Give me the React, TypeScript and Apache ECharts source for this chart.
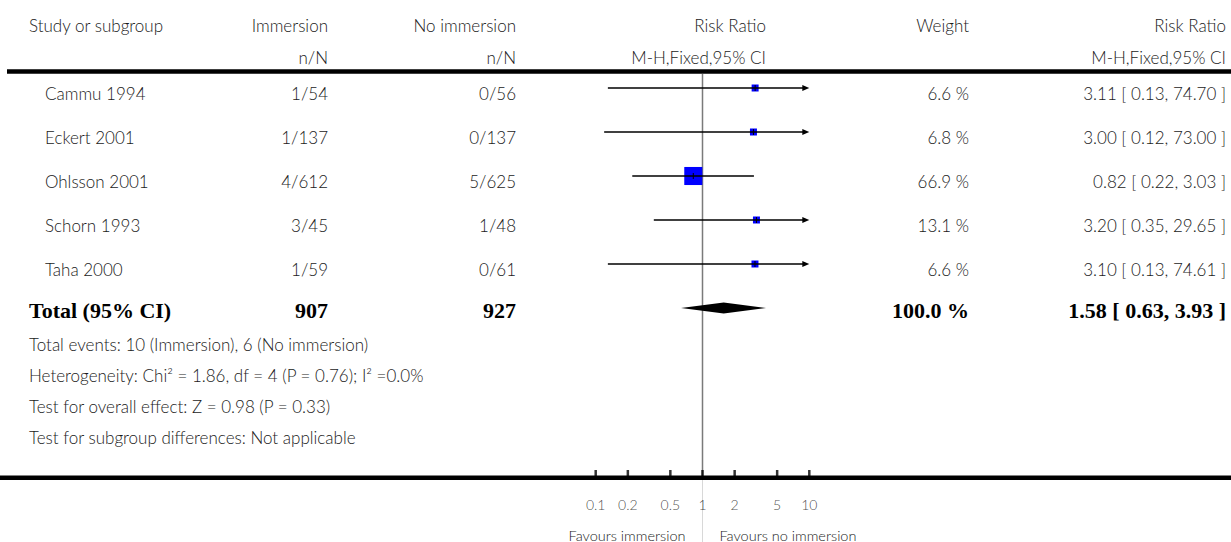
import React, { useEffect, useRef } from "react";
import * as echarts from "echarts";

// ---------- data ----------
const studies = ["Cammu 1994", "Eckert 2001", "Ohlsson 2001", "Schorn 1993", "Taha 2000"];
const immersionNN = ["1/54", "1/137", "4/612", "3/45", "1/59"];
const noImmersionNN = ["0/56", "0/137", "5/625", "1/48", "0/61"];
const weights = [6.6, 6.8, 66.9, 13.1, 6.6];
const riskRatio = [3.11, 3.0, 0.82, 3.2, 3.1];
const ciLow = [0.13, 0.12, 0.22, 0.35, 0.13];
const ciHigh = [74.7, 73.0, 3.03, 29.65, 74.61];

const totalLabel = "Total (95% CI)";
const totalImmersion = 907;
const totalNoImmersion = 927;
const totalWeight = 100.0;
const totalRR = 1.58;
const totalLow = 0.63;
const totalHigh = 3.93;

const axisTicks = [0.1, 0.2, 0.5, 1, 2, 5, 10];
const tickLabels = ["0.1", "0.2", "0.5", "1", "2", "5", "10"];
const favoursLeft = "Favours immersion";
const favoursRight = "Favours no immersion";

const footnotes = [
  "Total events: 10 (Immersion), 6 (No immersion)",
  "Heterogeneity: Chi\u00B2 = 1.86, df = 4 (P = 0.76); I\u00B2 =0.0%",
  "Test for overall effect: Z = 0.98 (P = 0.33)",
  "Test for subgroup differences: Not applicable",
];

// ---------- layout ----------
const W = 1231;
const H = 542;
const ROW = 44;
const Y_MIN = -2;
const Y_MAX = H / ROW - 2;
const PX_PER_DECADE = 106.8;
const X_ONE = 702.5;
const GRID_LEFT = X_ONE - 2 * PX_PER_DECADE;
const GRID_WIDTH = 4 * PX_PER_DECADE;
const ARROW_CAP = 10;

const REG = { fontFamily: "Lato", fontWeight: 300, fontSize: 17, fill: "#1a1a1a" };
const BOLD = { fontFamily: "Liberation Serif", fontWeight: "bold", fontSize: 22, fill: "#000" };

const fmt2 = (v: number) => v.toFixed(2);
const ciText = (rr: number, lo: number, hi: number) => `${fmt2(rr)} [ ${fmt2(lo)}, ${fmt2(hi)} ]`;

export default function App() {
  const ref = useRef<HTMLDivElement>(null);

  useEffect(() => {
    if (!ref.current) return;
    const chart = echarts.init(ref.current, null, { renderer: "svg" });

    const studyData = studies.map((_, i) => [riskRatio[i], i, ciLow[i], ciHigh[i], weights[i]]);

    const option: any = {
      animation: false,
      backgroundColor: "#fff",
      grid: { left: GRID_LEFT, width: GRID_WIDTH, top: 0, height: H },
      xAxis: { type: "log", logBase: 10, min: 0.01, max: 100, show: false },
      yAxis: { type: "value", min: Y_MIN, max: Y_MAX, inverse: true, show: false },
      series: [
        {
          type: "line",
          data: [[1, 74 / ROW + Y_MIN], [1, 477.7 / ROW + Y_MIN]],
          symbol: "none",
          lineStyle: { color: "#7a7a7a", width: 1.5 },
          z: 1,
        },
        {
          type: "line",
          data: [[1, 477.7 / ROW + Y_MIN], [1, Y_MAX]],
          symbol: "none",
          lineStyle: { color: "#d8d8d8", width: 1 },
          z: 1,
        },
        {
          type: "custom",
          z: 3,
          clip: false,
          data: studyData,
          encode: { x: [0, 2, 3], y: 1 },
          renderItem: (params: any, api: any) => {
            const est = api.value(0);
            const row = api.value(1);
            const lo = api.value(2);
            const hi = api.value(3);
            const w = api.value(4);
            const pLo = api.coord([lo, row]);
            const capped = hi > ARROW_CAP;
            const pHi = api.coord([Math.min(hi, ARROW_CAP), row]);
            const pE = api.coord([est, row]);
            const s = Math.max(7, w * 0.27);
            const children: any[] = [
              {
                type: "rect",
                shape: { x: pE[0] - s / 2, y: pE[1] - s / 2, width: s, height: s },
                style: { fill: "#0000ff" },
              },
              {
                type: "line",
                shape: { x1: pLo[0], y1: pLo[1], x2: capped ? pHi[0] - 4 : pHi[0], y2: pHi[1] },
                style: { stroke: "#000", lineWidth: 1.5 },
              },
              {
                type: "line",
                shape: { x1: pE[0], y1: pE[1] - 3, x2: pE[0], y2: pE[1] + 3 },
                style: { stroke: "#000", lineWidth: 1 },
              },
            ];
            if (capped) {
              children.push({
                type: "polygon",
                shape: {
                  points: [
                    [pHi[0] - 7, pHi[1] - 3],
                    [pHi[0], pHi[1]],
                    [pHi[0] - 7, pHi[1] + 3],
                  ],
                },
                style: { fill: "#000" },
              });
            }
            return { type: "group", children };
          },
        },
        {
          type: "custom",
          z: 3,
          data: [[totalRR, studies.length, totalLow, totalHigh]],
          encode: { x: [0, 2, 3], y: 1 },
          renderItem: (params: any, api: any) => {
            const row = api.value(1);
            const pL = api.coord([api.value(2), row]);
            const pC = api.coord([api.value(0), row]);
            const pR = api.coord([api.value(3), row]);
            return {
              type: "polygon",
              shape: {
                points: [
                  [pL[0], pL[1]],
                  [pC[0], pC[1] - 5.5],
                  [pR[0], pR[1]],
                  [pC[0], pC[1] + 5.5],
                ],
              },
              style: { fill: "#000" },
            };
          },
        },
        {
          type: "scatter",
          data: axisTicks.map((t) => [t, 473.5 / ROW + Y_MIN]),
          symbol: "rect",
          symbolSize: [2.5, 7],
          itemStyle: { color: "#000" },
          z: 4,
        },
        {
          type: "scatter",
          data: axisTicks.map((t, i) => ({ value: [t, 504 / ROW + Y_MIN], name: tickLabels[i] })),
          symbolSize: 1,
          itemStyle: { color: "rgba(0,0,0,0)" },
          label: {
            show: true,
            position: "inside",
            formatter: (p: any) => p.name,
            fontFamily: "Lato",
            fontWeight: 300,
            fontSize: 14,
            color: "#1a1a1a",
          },
          z: 4,
        },
      ],
    };
    chart.setOption(option);

    const yPix = (v: number) => chart.convertToPixel({ yAxisIndex: 0 }, v) as number;
    const xPix = (v: number) => chart.convertToPixel({ xAxisIndex: 0 }, v) as number;

    const txt = (text: string, x: number, y: number, align: string, style: any = REG) => ({
      type: "text",
      x,
      y,
      style: { ...style, text, align, verticalAlign: "middle" },
      z: 10,
    });

    const COL_NAME = 29;
    const COL_STUDY = 45;
    const COL_IMM = 328;
    const COL_NOIMM = 516;
    const COL_RR = 766;
    const COL_W = 969;
    const COL_CI = 1226;
    const H1 = 25;
    const H2 = 57.5;

    const g: any[] = [
      txt("Study or subgroup", COL_NAME, H1, "left"),
      txt("Immersion", COL_IMM, H1, "right"),
      txt("n/N", COL_IMM, H2, "right"),
      txt("No immersion", COL_NOIMM, H1, "right"),
      txt("n/N", COL_NOIMM, H2, "right"),
      txt("Risk Ratio", COL_RR, H1, "right"),
      txt("M-H,Fixed,95% CI", COL_RR, H2, "right"),
      txt("Weight", COL_W, H1, "right"),
      txt("Risk Ratio", COL_CI, H1, "right"),
      txt("M-H,Fixed,95% CI", COL_CI, H2, "right"),
      {
        type: "line",
        shape: { x1: 7, y1: 71.5, x2: W, y2: 71.5 },
        style: { stroke: "#000", lineWidth: 4.5 },
        z: 5,
      },
      {
        type: "line",
        shape: { x1: 0, y1: 477.7, x2: W, y2: 477.7 },
        style: { stroke: "#000", lineWidth: 4.5 },
        z: 5,
      },
    ];

    studies.forEach((name, i) => {
      const y = yPix(i) + 5.5;
      g.push(txt(name, COL_STUDY, y, "left"));
      g.push(txt(immersionNN[i], COL_IMM, y, "right"));
      g.push(txt(noImmersionNN[i], COL_NOIMM, y, "right"));
      g.push(txt(`${weights[i].toFixed(1)} %`, COL_W, y, "right"));
      g.push(txt(ciText(riskRatio[i], ciLow[i], ciHigh[i]), COL_CI, y, "right"));
    });

    const yT = yPix(studies.length) + 2;
    g.push(txt(totalLabel, COL_NAME, yT, "left", BOLD));
    g.push(txt(String(totalImmersion), COL_IMM, yT, "right", BOLD));
    g.push(txt(String(totalNoImmersion), COL_NOIMM, yT, "right", BOLD));
    g.push(txt(`${totalWeight.toFixed(1)} %`, COL_W, yT, "right", BOLD));
    g.push(txt(ciText(totalRR, totalLow, totalHigh), COL_CI, yT, "right", BOLD));

    footnotes.forEach((f, k) => {
      g.push(txt(f, COL_NAME, 344 + k * 31, "left"));
    });

    const x1 = xPix(1);
    const FAV = { ...REG, fontSize: 14.5 };
    g.push(txt(favoursLeft, x1 - 17, 535, "right", FAV));
    g.push(txt(favoursRight, x1 + 17, 535, "left", FAV));

    chart.setOption({ graphic: g });

    return () => chart.dispose();
  }, []);

  return (
    <div
      ref={ref}
      style={{ position: "absolute", left: 0, top: 0, width: W, height: H, background: "#fff" }}
    />
  );
}
